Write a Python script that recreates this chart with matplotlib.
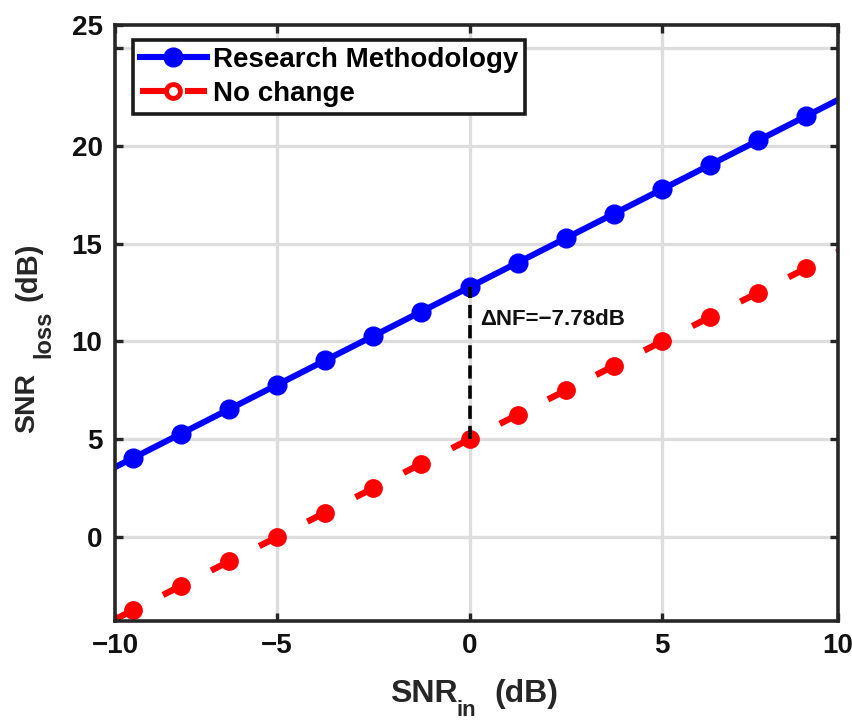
import numpy as np
import matplotlib
matplotlib.use("Agg")
import matplotlib.pyplot as plt
from matplotlib.lines import Line2D

# SNR sweep (dB); end points only carry the line to the box edges
snr_in = [-10, -8.75, -7.5, -6.25, -5, -3.75, -2.5, -1.25, 0,
          1.25, 2.5, 3.75, 5, 6.25, 7.5, 8.75, 10]
snr_research = [2.78, 4.03, 5.28, 6.53, 7.78, 9.03, 10.28, 11.53, 12.78,
                14.03, 15.28, 16.53, 17.78, 19.03, 20.28, 21.53, 22.78]
snr_nochange = [-5, -3.75, -2.5, -1.25, 0, 1.25, 2.5, 3.75, 5,
                6.25, 7.5, 8.75, 10, 11.25, 12.5, 13.75, 15]
delta_nf = -7.78
series_names = ["Research Methodology", "No change"]

xgrid = [-5, 0, 5]
ygrid = [0, 5, 10, 15, 20, 25]

plt.rcParams['font.family'] = ['Liberation Sans', 'DejaVu Sans']
plt.rcParams['font.weight'] = 'bold'
plt.rcParams['lines.scale_dashes'] = False

W, H = 852, 722
fig = plt.figure(figsize=(W / 100, H / 100), dpi=100)
ax = fig.add_axes([0.135, 0.140, 0.8486, 0.8254])

xlo, xhi = -9.21, 9.57
ylo, yhi = -4.29, 26.18
ax.set_xlim(xlo, xhi)
ax.set_ylim(ylo, yhi)

dark = '#262626'
gridc = '#dddddd'

for gx in xgrid:
    ax.axvline(gx, color=gridc, lw=2.4, zorder=0)
for gy in ygrid:
    ax.axhline(gy, color=gridc, lw=2.4, zorder=0)

marks = slice(1, -1)
ax.plot(snr_in, snr_research, color='#0000ff', lw=4.4, marker='o', ms=13.5,
        markevery=marks, zorder=3)
ax.plot(snr_in, snr_nochange, color='#ff0000', lw=4.6, marker='o', ms=12.5,
        markevery=marks, mfc='#ff0000', mec='#ff0000',
        linestyle=(14.4, (14.4, 24.46)), zorder=3)

# gap between the two curves at 0 dB input
i0 = snr_in.index(0)
ax.plot([0, 0], [snr_nochange[i0], snr_research[i0]], color='black', lw=2.6,
        linestyle=(0, (9.5, 5.0)), zorder=4)
ax.text(0.27, 11.1, "\u0394NF=\u2212%.2fdB" % abs(delta_nf), fontsize=16,
        fontweight='bold', color='#111111', ha='left', va='center', zorder=5)

ax.set_xticks([xlo] + xgrid + [xhi])
ax.set_xticklabels(['\u221210', '\u22125', '0', '5', '10'])
ax.set_yticks(ygrid + [yhi])
ax.set_yticklabels(['0', '5', '10', '15', '20', '', '25'])
ax.tick_params(direction='in', length=6, width=2.4, color=dark,
               labelsize=20, labelcolor='#111111', top=True, right=True)
ax.tick_params(axis='x', pad=9)
ax.tick_params(axis='y', pad=9)
for lab in ax.get_xticklabels() + ax.get_yticklabels():
    lab.set_fontweight('bold')
for s in ax.spines.values():
    s.set_linewidth(2.6)
    s.set_color(dark)
    s.set_zorder(6)


def px(x, y):
    # pixel position (from top-left) to figure fraction
    return x / W, 1 - y / H


# axis labels built from pieces so the subscripts sit large and low
lab_kw = dict(fontweight='bold', color=dark)
fig.text(*px(390, 702), "SNR", fontsize=23, ha='left', va='baseline', **lab_kw)
fig.text(*px(457, 716), "in", fontsize=16, ha='left', va='baseline', **lab_kw)
fig.text(*px(494, 702), "(dB)", fontsize=23, ha='left', va='baseline', **lab_kw)

rot_kw = dict(rotation=90, rotation_mode='anchor', ha='left', va='baseline', **lab_kw)
fig.text(*px(34, 433), "SNR", fontsize=20.5, **rot_kw)
fig.text(*px(50, 358), "loss", fontsize=17, **rot_kw)
fig.text(*px(36, 301), "(dB)", fontsize=21, **rot_kw)

handles = [
    Line2D([], [], color='#0000ff', lw=4.4, marker='o', ms=13.5),
    Line2D([], [], color='#ff0000', lw=4.4, marker='o', ms=10, mfc='white',
           mew=3.5, linestyle=(0, (21.6, 10.8))),
]
leg = ax.legend(handles, series_names, loc='upper left',
                bbox_to_anchor=(0.025, 0.975), borderaxespad=0,
                frameon=True, fancybox=False, framealpha=1,
                edgecolor='#1a1a1a', handlelength=2.4, handletextpad=0.22,
                labelspacing=0.3, borderpad=0.25,
                prop={'weight': 'bold', 'size': 20})
leg.get_frame().set_linewidth(2.6)
leg.set_zorder(10)

fig.savefig('out.png', dpi=100)
